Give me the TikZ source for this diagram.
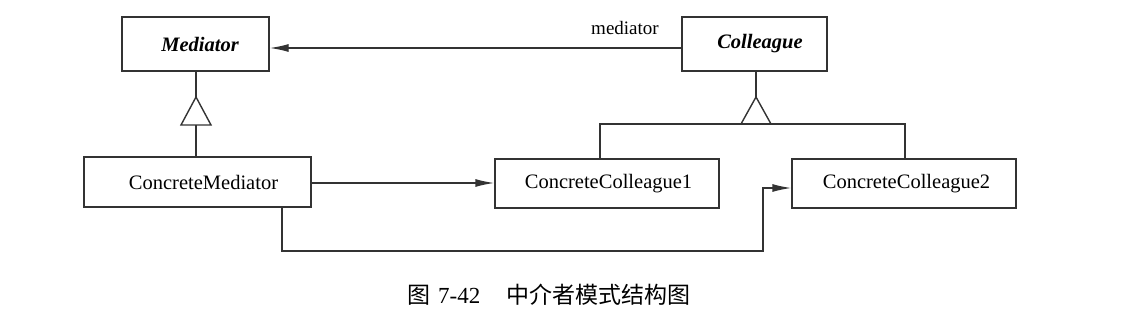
\documentclass[tikz,border=0pt]{standalone}
\usepackage{fontspec}
\setmainfont{Liberation Serif}
\newfontfamily\cjk{Noto Sans CJK SC}
\usetikzlibrary{arrows.meta}
\definecolor{linecol}{gray}{0.2}
\tikzset{
  umlbox/.style={draw=linecol, line width=1.4pt, inner sep=0pt, fill=white,
    font=\fontsize{20.5}{24}\selectfont},
  abstractbox/.style={umlbox, font=\fontsize{20.5}{24}\selectfont\bfseries\itshape},
  conn/.style={draw=linecol, line width=1.4pt},
  arr/.style={conn, -{Latex[length=19pt,width=8pt]}},
  inherit/.style={draw=linecol, line width=1.4pt, line join=miter},
}
\begin{document}
\begin{tikzpicture}[x=1pt,y=-1pt]
\useasboundingbox (0,0) rectangle (1132,329);
% boxes
\node[abstractbox, minimum width=147pt, minimum height=54pt] (med) at (195.5,44) {\hspace{9pt}Mediator};
\node[abstractbox, minimum width=145pt, minimum height=54pt] (col) at (754.5,44) {\hspace{11pt}Colleague};
\node[umlbox, minimum width=227pt, minimum height=50pt] (cmed) at (197.5,182) {\hspace{12pt}ConcreteMediator};
\node[umlbox, minimum width=224pt, minimum height=49pt] (cc1) at (607,183.5) {\hspace{3pt}ConcreteColleague1};
\node[umlbox, minimum width=224pt, minimum height=49pt] (cc2) at (904,183.5) {\hspace{5pt}ConcreteColleague2};
% association label
\node[font=\fontsize{19}{22}\selectfont, inner sep=0pt] (lbl) at (625,28) {mediator};
% Colleague -> Mediator
\coordinate (cstart) at (682,48);
\draw[arr] (cstart) -- (cstart -| med.east);
% inheritance Mediator
\coordinate (apex1) at (196,97);
\coordinate (base1) at (196,125);
\draw[conn] (med.south -| apex1) -- (apex1);
\draw[inherit] (apex1) -- (211,125) -- (181,125) -- cycle;
\draw[conn] (base1) -- (base1 |- cmed.north);
% inheritance Colleague
\coordinate (apex2) at (756,97);
\coordinate (base2) at (756,124);
\draw[conn] (col.south -| apex2) -- (apex2);
\draw[inherit] (apex2) -- (771,124) -- (741,124) -- cycle;
\coordinate (bl) at (600,124);
\coordinate (br) at (905,124);
\draw[conn] (bl |- cc1.north) -- (bl) -- (br) -- (br |- cc2.north);
% ConcreteMediator -> ConcreteColleague1
\coordinate (m1) at (311,183);
\draw[arr] (m1) -- (m1 -| cc1.west);
% ConcreteMediator -> ConcreteColleague2
\coordinate (d1) at (282,251);
\coordinate (d2) at (763,251);
\coordinate (d3) at (763,188);
\draw[arr] (d1 |- cmed.south) -- (d1) -- (d2) -- (d3) -- (d3 -| cc2.west);
% caption
\node[inner sep=0pt, anchor=west] (cap) at (407,295) {\fontsize{23}{26}\selectfont\cjk 图\hspace{8pt}\fontspec{Liberation Serif}7-42\hspace{26pt}\cjk 中介者模式结构图};
\end{tikzpicture}
\end{document}
